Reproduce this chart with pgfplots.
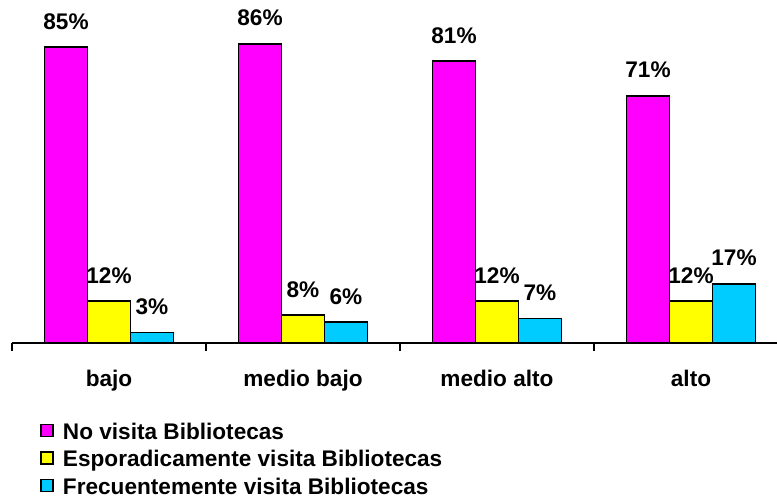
\documentclass[border=0pt]{standalone}
\usepackage{fontspec}
\setmainfont{Liberation Sans}
\usepackage{pgfplots}
\pgfplotsset{compat=1.18}

\definecolor{cMag}{RGB}{255,0,255}
\definecolor{cYel}{RGB}{255,255,0}
\definecolor{cCya}{RGB}{0,204,255}

\begin{document}
\begin{tikzpicture}[font=\bfseries\fontsize{11.3}{13}\selectfont]
\path[use as bounding box] (-6pt,-78pt) rectangle (382.5pt,171.5pt);
\begin{axis}[
    at={(0,0)}, anchor=south west,
    x=97pt, y=1.74pt,
    xmin=-0.5, xmax=3.443,
    ymin=0, ymax=98.5,
    clip=false,
    axis x line*=bottom,
    axis y line=none,
    axis line style={line width=0.8pt},
    ybar=0pt,
    bar width=21.5pt,
    xtick={0,1,2,3},
    xticklabels={bajo, medio bajo, medio alto, alto},
    major tick length=0pt,
    minor xtick={-0.5,0.5,1.5,2.5},
    minor tick length=4pt,
    tick align=outside,
    tick style={black, line width=0.8pt},
    xticklabel style={inner sep=0pt, yshift=-13.5pt, anchor=north},
    /pgf/number format/assume math mode=true,
    nodes near coords={\pgfmathprintnumber{\pgfplotspointmeta}\%},
    every node near coord/.append style={anchor=south, inner sep=0pt, yshift=8.5pt, black},
    legend style={
        at={(axis description cs:0,0)}, anchor=north west,
        xshift=14pt, yshift=-40pt,
        draw=none, fill=none, inner sep=0pt,
        row sep=3.75pt, column sep=4.5pt,
        nodes={inner sep=0pt, text height=8pt, text depth=2pt},
    },
    legend cell align=left,
    legend image code/.code={\draw[#1, line width=0.8pt] (0pt,-1.5pt) rectangle (6pt,4.5pt);},
]
\addplot[fill=cMag, draw=black, line width=0.8pt] coordinates {(0,85) (1,86) (2,81) (3,71)};
\addplot[fill=cYel, draw=black, line width=0.8pt] coordinates {(0,12) (1,8) (2,12) (3,12)};
\addplot[fill=cCya, draw=black, line width=0.8pt] coordinates {(0,3) (1,6) (2,7) (3,17)};
\legend{No visita Bibliotecas, Esporadicamente visita Bibliotecas, Frecuentemente visita Bibliotecas}
\end{axis}
\end{tikzpicture}
\end{document}
